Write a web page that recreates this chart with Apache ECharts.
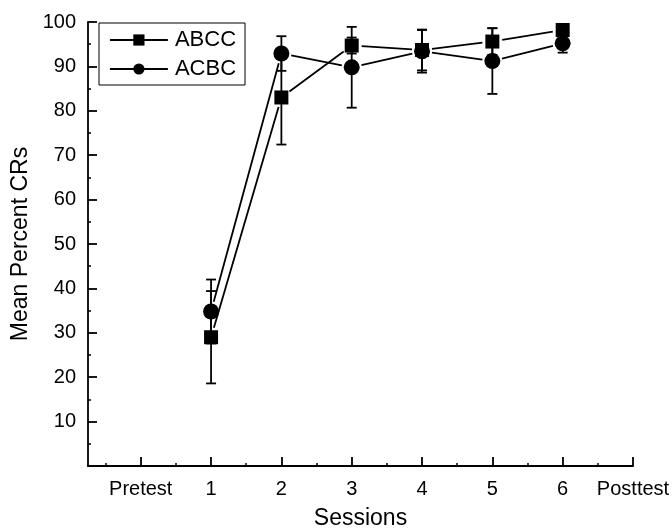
<!DOCTYPE html>
<html>
<head>
<meta charset="utf-8">
<script src="https://cdn.jsdelivr.net/npm/echarts@6/dist/echarts.min.js"></script>
<style>
html,body{margin:0;padding:0;background:#fff;}
#c{width:672px;height:529px;}
</style>
</head>
<body>
<div id="c"></div>
<script>
// ---- data ----
var tickPositions = [0, 1, 2, 3, 4, 5, 6, 7];
var tickLabels = ['Pretest', '1', '2', '3', '4', '5', '6', 'Posttest'];
var sessions = [1, 2, 3, 4, 5, 6];
var abccMean = [29.0, 83.0, 94.7, 93.7, 95.6, 98.2];
var abccErr  = [10.4, 10.6, 1.8, 4.6, 3.0, 1.0];
var acbcMean = [34.8, 92.9, 89.8, 93.4, 91.2, 95.2];
var acbcErr  = [7.2, 3.9, 9.1, 4.8, 7.4, 2.1];
var seriesNames = ['ABCC', 'ACBC'];

var FONT = 'Liberation Sans, Arial, sans-serif';
var chart = echarts.init(document.getElementById('c'), null, {renderer: 'canvas'});

function pts(mean) { return sessions.map(function (s, i) { return [s, mean[i]]; }); }
function errData(mean, err) { return sessions.map(function (s, i) { return [s, mean[i] - err[i], mean[i] + err[i]]; }); }
function segData(mean) {
  var out = [];
  for (var i = 0; i < sessions.length - 1; i++) out.push([sessions[i], mean[i], sessions[i + 1], mean[i + 1]]);
  return out;
}

var LW = 1.8;
function errRender(params, api) {
  var x = api.value(0);
  var lo = api.coord([x, api.value(1)]);
  var hi = api.coord([x, api.value(2)]);
  var w = 5;
  var st = {stroke: '#000', lineWidth: LW};
  return {type: 'group', children: [
    {type: 'line', shape: {x1: lo[0], y1: lo[1], x2: hi[0], y2: hi[1]}, style: st},
    {type: 'line', shape: {x1: lo[0] - w, y1: lo[1], x2: lo[0] + w, y2: lo[1]}, style: st},
    {type: 'line', shape: {x1: hi[0] - w, y1: hi[1], x2: hi[0] + w, y2: hi[1]}, style: st}
  ]};
}
function segRender(params, api) {
  var a = api.coord([api.value(0), api.value(1)]);
  var b = api.coord([api.value(2), api.value(3)]);
  var dx = b[0] - a[0], dy = b[1] - a[1];
  var L = Math.sqrt(dx * dx + dy * dy);
  var g = 10;
  var ux = dx / L, uy = dy / L;
  return {type: 'line', shape: {x1: a[0] + ux * g, y1: a[1] + uy * g, x2: b[0] - ux * g, y2: b[1] - uy * g},
    style: {stroke: '#000', lineWidth: LW}};
}

var minorX = [];
for (var k = 0; k < 7; k++) minorX.push(k - 0.5);
minorX.push(6.5);

var option = {
  animation: false,
  backgroundColor: '#fff',
  grid: {left: 88, right: 39, top: 22, bottom: 63, containLabel: false, outerBoundsMode: 'none'},
  legend: {
    data: seriesNames,
    left: 99, top: 23,
    orient: 'vertical',
    borderColor: '#000', borderWidth: 1,
    padding: [6, 9, 5, 10],
    itemWidth: 58, itemHeight: 14, itemGap: 7,
    textStyle: {fontFamily: FONT, fontSize: 22, color: '#000', padding: [0, 0, 0, 2]},
    lineStyle: {width: LW, color: '#000', opacity: 1}
  },
  xAxis: [{
    type: 'value', min: -0.75, max: 7,
    name: 'Sessions', nameLocation: 'middle', nameGap: 41,
    nameTextStyle: {fontFamily: FONT, fontSize: 23, color: '#000'},
    axisLine: {show: true, onZero: false, lineStyle: {color: '#000', width: LW}},
    axisTick: {show: true, inside: true, length: 9, customValues: tickPositions, lineStyle: {color: '#000', width: LW}},
    axisLabel: {show: true, customValues: tickPositions, margin: 13, fontFamily: FONT, fontSize: 20, color: '#000',
      formatter: function (v) { var i = tickPositions.indexOf(Math.round(v)); return i >= 0 ? tickLabels[i] : ''; }},
    splitLine: {show: false}
  }, {
    type: 'value', min: -0.75, max: 7, position: 'bottom',
    axisLine: {show: false, onZero: false},
    axisTick: {show: true, inside: true, length: 3, customValues: minorX, lineStyle: {color: '#000', width: 1.5}},
    axisLabel: {show: false},
    splitLine: {show: false}
  }],
  yAxis: {
    type: 'value', min: 0, max: 100, interval: 10,
    name: 'Mean Percent CRs', nameLocation: 'middle', nameGap: 49,
    nameTextStyle: {fontFamily: FONT, fontSize: 23, color: '#000'},
    axisLine: {show: true, onZero: false, lineStyle: {color: '#000', width: LW}},
    axisTick: {show: true, inside: true, length: 9, lineStyle: {color: '#000', width: LW}},
    minorTick: {show: true, splitNumber: 2, length: 3, lineStyle: {color: '#000', width: 1.5}},
    axisLabel: {margin: 12, fontFamily: FONT, fontSize: 20, color: '#000',
      formatter: function (v) { return v === 0 ? '' : String(v); }},
    splitLine: {show: false}
  },
  series: [
    {type: 'custom', name: 'ABCC_seg', renderItem: segRender, data: segData(abccMean), silent: true, z: 2},
    {type: 'custom', name: 'ACBC_seg', renderItem: segRender, data: segData(acbcMean), silent: true, z: 2},
    {type: 'custom', name: 'ABCC_err', renderItem: errRender, data: errData(abccMean, abccErr), silent: true, z: 3},
    {type: 'custom', name: 'ACBC_err', renderItem: errRender, data: errData(acbcMean, acbcErr), silent: true, z: 3},
    {type: 'line', name: seriesNames[0], data: pts(abccMean), symbol: 'rect', symbolSize: 14,
      itemStyle: {color: '#000'}, lineStyle: {width: 0, opacity: 0}, z: 5},
    {type: 'line', name: seriesNames[1], data: pts(acbcMean), symbol: 'circle', symbolSize: 16,
      itemStyle: {color: '#000'}, lineStyle: {width: 0, opacity: 0}, z: 5}
  ]
};
chart.setOption(option);
</script>
</body>
</html>
